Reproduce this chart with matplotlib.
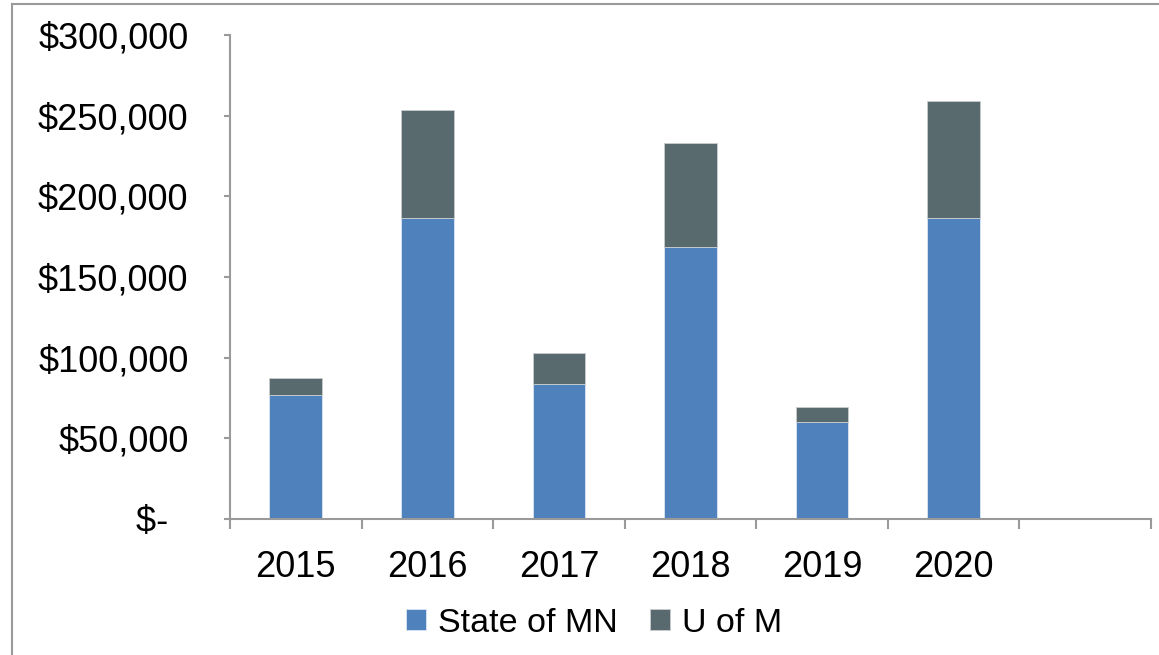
import numpy as np
import matplotlib
matplotlib.use('Agg')
import matplotlib.pyplot as plt
from matplotlib.lines import Line2D

plt.rcParams['font.family'] = ['Liberation Sans', 'DejaVu Sans']

# funding by year, split by source
years = ['2015', '2016', '2017', '2018', '2019', '2020']
state_mn = [77000, 186300, 83700, 168500, 60000, 186400]
u_of_m = [10400, 67400, 19200, 64300, 9500, 72900]
y_ticks = [0, 50000, 100000, 150000, 200000, 250000, 300000]

state_color = '#4F81BD'
umn_color = '#586A6E'
axis_gray = '#9A9A9A'

fig = plt.figure(figsize=(11.59, 6.55), dpi=100)
ax = fig.add_axes([230 / 1159, 1 - 519 / 655, (1151 - 230) / 1159, (519 - 35) / 655])

x = np.arange(len(years)) + 0.5
ax.bar(x, state_mn, width=0.4, color=state_color, edgecolor='#DCE6F2', linewidth=0.6, label='State of MN')
ax.bar(x, u_of_m, width=0.4, bottom=state_mn, color=umn_color, edgecolor='#C8CED0', linewidth=0.6, label='U of M')

# one empty slot after the last year
ax.set_xlim(0, len(years) + 1)
ax.set_ylim(0, 300000)

ax.set_xticks(np.arange(len(years) + 2))
ax.set_xticklabels([])
ax.set_xticks(x, minor=True)
ax.set_xticklabels(years, minor=True)
ax.tick_params(axis='x', which='major', direction='out', length=7.2, width=1.5, color=axis_gray)
ax.tick_params(axis='x', which='minor', length=0, pad=22, labelsize=26)

ax.set_yticks(y_ticks)
ax.set_yticklabels(['$-  '] + [f'${v:,.0f}' for v in y_ticks[1:]])
ax.tick_params(axis='y', direction='out', length=4.3, width=1.5, color=axis_gray, pad=25.5, labelsize=26)

for side in ['top', 'right']:
    ax.spines[side].set_visible(False)
for side in ['left', 'bottom']:
    ax.spines[side].set_color(axis_gray)
    ax.spines[side].set_linewidth(1.5)

fig.legend(loc='center', bbox_to_anchor=(594 / 1159, 1 - 623 / 655), ncol=2, frameon=False,
           fontsize=24.5, handlelength=0.6, handleheight=0.6, handletextpad=0.35, columnspacing=0.95)

# outer chart frame (left and top edges)
fig.add_artist(Line2D([12 / 1159, 12 / 1159], [0, 1 - 4 / 655], transform=fig.transFigure,
                      color=axis_gray, linewidth=1.5))
fig.add_artist(Line2D([12 / 1159, 1], [1 - 4 / 655, 1 - 4 / 655], transform=fig.transFigure,
                      color=axis_gray, linewidth=1.5))

fig.savefig('out.png', dpi=100, facecolor='white')
